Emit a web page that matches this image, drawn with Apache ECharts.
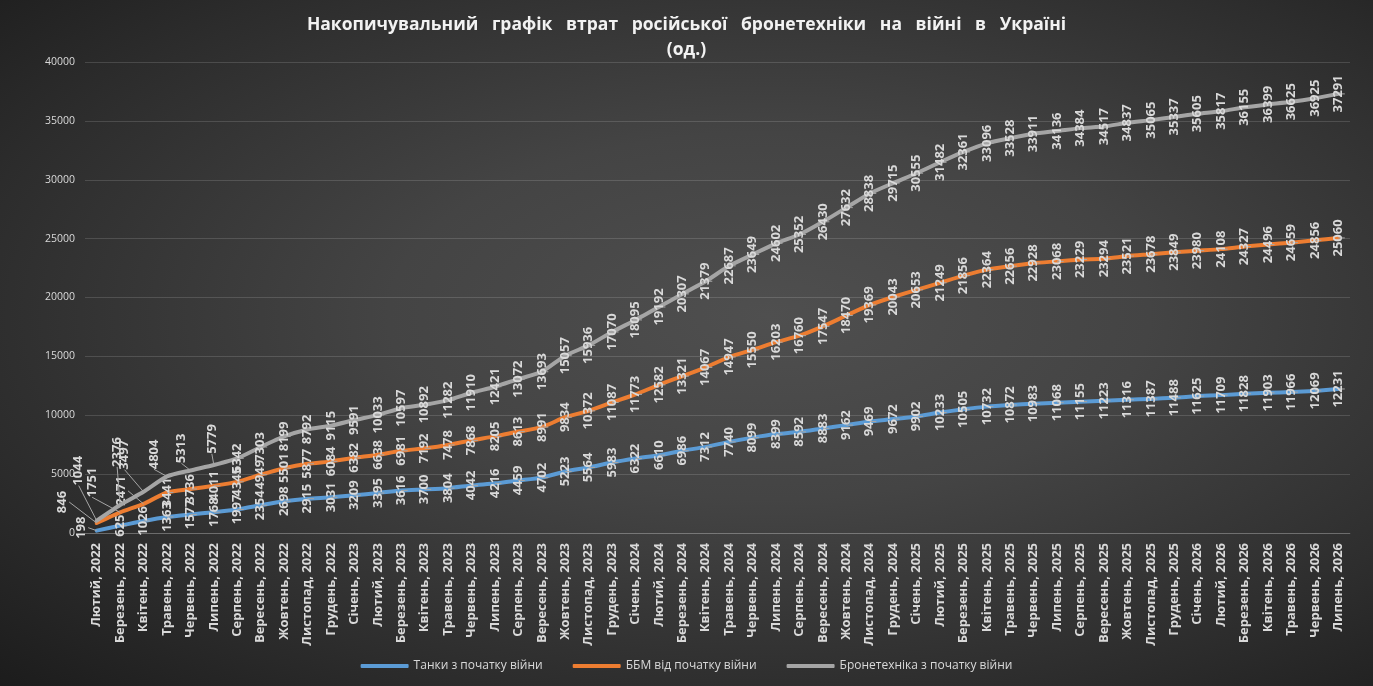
<!DOCTYPE html>
<html>
<head>
<meta charset="utf-8">
<script src="https://cdn.jsdelivr.net/npm/echarts@6/dist/echarts.min.js"></script>
<style>
html,body{margin:0;padding:0;width:1373px;height:686px;overflow:hidden;}
body{background:radial-gradient(ellipse at 56% 46%, #4f4f4f 0%, #444 35%, #2c2c2c 75%, #1c1c1c 100%);}
#c{width:1373px;height:686px;}
</style>
</head>
<body>
<div id="c"></div>
<script>
const categories = [
 "Лютий, 2022","Березень, 2022","Квітень, 2022","Травень, 2022","Червень, 2022","Липень, 2022","Серпень, 2022","Вересень, 2022","Жовтень, 2022","Листопад, 2022","Грудень, 2022",
 "Січень, 2023","Лютий, 2023","Березень, 2023","Квітень, 2023","Травень, 2023","Червень, 2023","Липень, 2023","Серпень, 2023","Вересень, 2023","Жовтень, 2023","Листопад, 2023","Грудень, 2023",
 "Січень, 2024","Лютий, 2024","Березень, 2024","Квітень, 2024","Травень, 2024","Червень, 2024","Липень, 2024","Серпень, 2024","Вересень, 2024","Жовтень, 2024","Листопад, 2024","Грудень, 2024",
 "Січень, 2025","Лютий, 2025","Березень, 2025","Квітень, 2025","Травень, 2025","Червень, 2025","Липень, 2025","Серпень, 2025","Вересень, 2025","Жовтень, 2025","Листопад, 2025","Грудень, 2025",
 "Січень, 2026","Лютий, 2026","Березень, 2026","Квітень, 2026","Травень, 2026","Червень, 2026","Липень, 2026"
];
const tanks = [198,625,1026,1363,1577,1768,1997,2354,2698,2915,3031,
 3209,3395,3616,3700,3804,4042,4216,4459,4702,5223,5564,5983,
 6322,6610,6986,7312,7740,8099,8399,8592,8883,9162,9469,9672,
 9902,10233,10505,10732,10872,10983,11068,11155,11223,11316,11387,11488,
 11625,11709,11828,11903,11966,12069,12231];
const bbm = [846,1751,2471,3441,3736,4011,4345,4949,5501,5877,6084,
 6382,6638,6981,7192,7478,7868,8205,8613,8991,9834,10372,11087,
 11773,12582,13321,14067,14947,15550,16203,16760,17547,18470,19369,20043,
 20653,21249,21856,22364,22656,22928,23068,23229,23294,23521,23678,23849,
 23980,24108,24327,24496,24659,24856,25060];
const armor = [1044,2376,3497,4804,5313,5779,6342,7303,8199,8792,9115,
 9591,10033,10597,10892,11282,11910,12421,13072,13693,15057,15936,17070,
 18095,19192,20307,21379,22687,23649,24602,25352,26430,27632,28838,29715,
 30555,31482,32361,33096,33528,33911,34136,34384,34517,34837,35065,35337,
 35605,35817,36155,36399,36625,36925,37291];
const seriesNames = ["Танки з початку війни","ББМ від початку війни","Бронетехніка з початку війни"];
const yTicks = {min:0, max:40000, interval:5000};

// manual label nudges (screen px: [right, down]) for crowded early points - label styling only
const labelNudge = {
  "0-0":[-15,-3],
  "1-0":[-34,-21], "1-1":[-28,-30], "1-2":[-22,-13],
  "2-0":[-18,-50], "2-1":[-3,-53], "2-2":[-19,-37], "2-3":[-13,-22], "2-4":[-9,-22], "2-5":[-2,-26]
};

const colors = ['#5b9bd5','#ed7d31','#a5a5a5'];
const FONT = "'Open Sans', 'Noto Sans', sans-serif";

function mkSeries(name, data, color, idx){
  return {
    name, type:'line', data, smooth:0.2, symbol:'circle', symbolSize:0.01, showSymbol:true,
    lineStyle:{color, width:4, cap:'round', join:'round'},
    itemStyle:{color},
    z: 2+idx,
    label:{show:true, position:'inside', rotate:90, color:'#d9d9d9', fontSize:13, fontWeight:'bold', fontFamily:FONT},
    labelLine:{show:true, lineStyle:{color:'#a6a6a6', width:1}},
    labelLayout:function(p){
      const k = p.seriesIndex+'-'+p.dataIndex;
      const n = labelNudge[k];
      if(n) return {dx:-n[1], dy:n[0]};
      return {};
    }
  };
}

const chart = echarts.init(document.getElementById('c'), null, {renderer:'canvas'});
chart.setOption({
  backgroundColor:'transparent',
  animation:false,
  title:{
    text:'Накопичувальний   графік   втрат   російської   бронетехніки   на   війні   в   Україні\n(од.)',
    left:'center', top:8,
    textStyle:{color:'#f2f2f2', fontSize:17.5, fontWeight:'bold', fontFamily:FONT, lineHeight:25, align:'center'}
  },
  legend:{
    top:655, left:'center', itemWidth:48, itemHeight:4, itemGap:30, icon:'roundRect',
    textStyle:{color:'#d9d9d9', fontSize:12, fontFamily:FONT},
    data:seriesNames
  },
  grid:{left:85, right:23, top:62, bottom:153},
  xAxis:{
    type:'category', data:categories, boundaryGap:true,
    axisLine:{show:true, lineStyle:{color:'rgba(255,255,255,0.18)'}},
    axisTick:{show:false},
    axisLabel:{rotate:90, interval:0, color:'#d9d9d9', fontSize:13, fontWeight:'bold', fontFamily:FONT, margin:10}
  },
  yAxis:{
    type:'value', min:yTicks.min, max:yTicks.max, interval:yTicks.interval,
    axisLine:{show:false}, axisTick:{show:false},
    axisLabel:{color:'#d9d9d9', fontSize:10.5, fontFamily:FONT, margin:10, formatter:function(v){return String(v);}},
    splitLine:{lineStyle:{color:'rgba(255,255,255,0.14)', width:1}}
  },
  series:[
    mkSeries(seriesNames[0], tanks, colors[0], 0),
    mkSeries(seriesNames[1], bbm, colors[1], 1),
    mkSeries(seriesNames[2], armor, colors[2], 2)
  ]
});
</script>
</body>
</html>
